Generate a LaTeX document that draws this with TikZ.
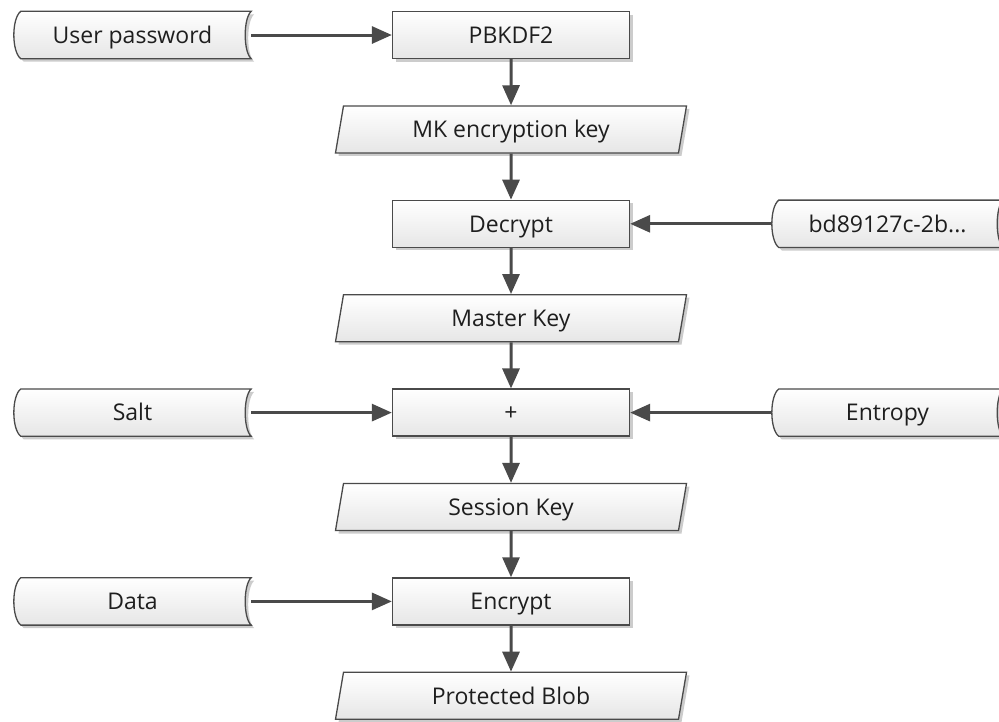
\documentclass[tikz,border=0pt]{standalone}
\usepackage{fontspec}
\setmainfont{Open Sans}
\usepackage{xcolor}
\usetikzlibrary{arrows.meta}
\usetikzlibrary{shapes.geometric}
\usetikzlibrary{shadows}
\usetikzlibrary{backgrounds}
\definecolor{edge}{HTML}{4A4A4A}
\definecolor{fillbot}{HTML}{E6E6E6}
\definecolor{ink}{HTML}{1E1E1E}

% outline of a stored-data node: bulging left side, hollow right side
\newcommand\storeshape[1]{%
  \path[store line] ([xshift=7pt]#1.north west) -- (#1.north east)
    .. controls ([xshift=-8pt,yshift=-7pt]#1.north east)
            and ([xshift=-8pt,yshift=7pt]#1.south east) .. (#1.south east)
    -- ([xshift=7pt]#1.south west)
    .. controls ([xshift=-2.3pt,yshift=7pt]#1.south west)
            and ([xshift=-2.3pt,yshift=-7pt]#1.north west) .. cycle;}

\begin{document}
\begin{tikzpicture}[x=1pt,y=-1pt]
    \tikzstyle{every node} = [font=\fontsize{23}{28}\selectfont, text=ink,
      text height=16.4pt, text depth=0pt]
    \tikzstyle{gloss} = [top color=white, bottom color=fillbot,
      drop shadow={shadow xshift=3pt, shadow yshift=-3pt, opacity=.2, fill=black}]
    \tikzstyle{proc} = [draw=edge, line width=1.3pt, gloss, inner sep=0pt,
      minimum width=237pt, minimum height=47pt]
    \tikzstyle{io} = [trapezium, trapezium left angle=64, trapezium right angle=116,
      trapezium stretches body, draw=edge, line width=1.3pt, gloss, inner sep=0pt,
      minimum width=351pt, minimum height=47pt]
    \tikzstyle{store} = [inner sep=0pt, minimum width=237pt, minimum height=47pt]
    \tikzstyle{store line} = [draw=edge, line width=1.3pt, gloss]
    \tikzstyle{flow} = [draw=edge, line width=3pt, -{Triangle[length=20pt,width=17pt]}]
    \useasboundingbox (0,0) rectangle (999,721);
    %%
    \node[store] (pwd) at (132.5,35) {User password};
    \node[proc] (pbkdf) at (511,35) {PBKDF2};
    \node[io] (mkkey) at (511,129.4) {MK encryption key};
    \node[proc] (decrypt) at (511,223.8) {Decrypt};
    \node[store,minimum width=231pt] (guid) at (887.5,223.8) {bd89127c-2b...};
    \node[io] (master) at (511,318.2) {Master Key};
    \node[store] (salt) at (132.5,412.6) {Salt};
    \node[proc] (plus) at (511,412.6) {+};
    \node[store,minimum width=231pt] (entropy) at (887.5,412.6) {Entropy};
    \node[io] (session) at (511,507) {Session Key};
    \node[store] (data) at (132.5,601.4) {Data};
    \node[proc] (encrypt) at (511,601.4) {Encrypt};
    \node[io] (blob) at (511,695.8) {Protected Blob};
    %%
    \draw[flow] (pwd) -- (pbkdf);
    \draw[flow] (pbkdf) -- (mkkey);
    \draw[flow] (mkkey) -- (decrypt);
    \draw[flow] (guid) -- (decrypt);
    \draw[flow] (decrypt) -- (master);
    \draw[flow] (master) -- (plus);
    \draw[flow] (salt) -- (plus);
    \draw[flow] (entropy) -- (plus);
    \draw[flow] (plus) -- (session);
    \draw[flow] (session) -- (encrypt);
    \draw[flow] (data) -- (encrypt);
    \draw[flow] (encrypt) -- (blob);
    %%
    \begin{pgfonlayer}{background}
      \fill[white] (0,0) rectangle (999,721);
      \foreach \s in {pwd,guid,salt,entropy,data} {\storeshape{\s}}
    \end{pgfonlayer}
\end{tikzpicture}
\end{document}
